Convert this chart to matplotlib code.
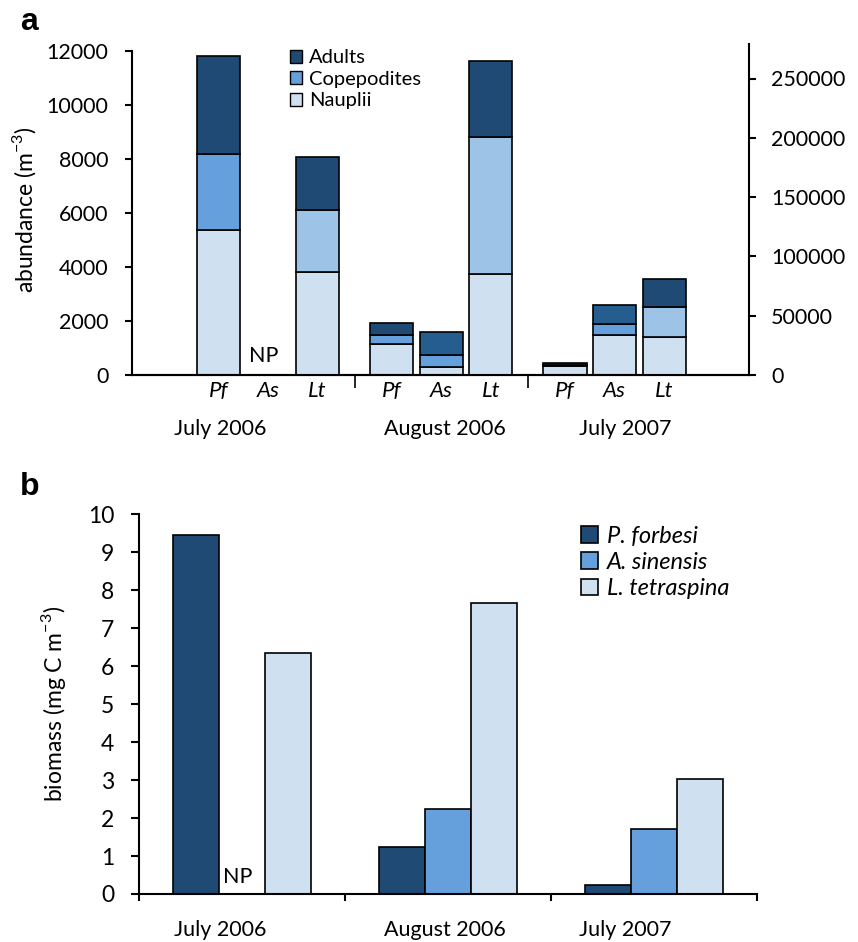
import matplotlib
matplotlib.use("Agg")
import matplotlib.pyplot as plt
from matplotlib.patches import Patch
from matplotlib.transforms import blended_transform_factory
import numpy as np

plt.rcParams['font.family'] = ['Lato', 'DejaVu Sans']

# ---- panel a: abundance by life stage ----
cruises = ["July 2006", "August 2006", "July 2007"]
species_abbr = ["Pf", "As", "Lt", "Pf", "As", "Lt", "Pf", "As", "Lt"]
stages = ["Nauplii", "Copepodites", "Adults"]

# Pf and As on the left axis (m-3); Lt on the right axis (m-3)
pf_nauplii = [5360, 1160, 344]
pf_copepodites = [2810, 320, 20]
pf_adults = [3660, 435, 91]

as_nauplii = [np.nan, 300, 1470]      # NP in July 2006
as_copepodites = [np.nan, 430, 430]
as_adults = [np.nan, 860, 680]

lt_nauplii = [86800, 85400, 31700]
lt_copepodites = [52600, 115500, 25900]
lt_adults = [44400, 63900, 23000]

# ---- panel b: biomass by species ----
species_full = ["P. forbesi", "A. sinensis", "L. tetraspina"]
biomass_pf = [9.45, 1.25, 0.245]
biomass_as = [np.nan, 2.24, 1.72]
biomass_lt = [6.34, 7.67, 3.04]

c_dark = "#1f4a73"
c_dark_as = "#255e8e"
c_mid = "#66a0dc"
c_lt_cop = "#9dc3e6"
c_light = "#cfe0f1"

W, H = 858, 942
fig = plt.figure(figsize=(W / 100, H / 100), dpi=100)


def frac(x0, y_top, x1, y_bot):
    return [x0 / W, (H - y_bot) / H, (x1 - x0) / W, (y_bot - y_top) / H]


tick_fs = 15.5
sup3 = r"$^{\mathregular{-3}}$"

# ================= panel a =================
ax = fig.add_axes(frac(132, 44, 749, 375))
axr = ax.twinx()
ax.set_ylim(0, 12000 * 331 / 324)
axr.set_ylim(0, 50000 * 331 / 59.3)

pos = np.array([0, 1, 2, 3.5, 4.5, 5.5, 7, 8, 9])
ax.set_xlim(-1.747, 10.717)
bw = 43 / 49.5
edge = dict(edgecolor="black", linewidth=1.2)

pf_x = pos[[0, 3, 6]]
as_x = pos[[1, 4, 7]]
lt_x = pos[[2, 5, 8]]

def stack(axis, x, n, c, a, cols):
    n = np.array(n, float)
    c = np.array(c, float)
    a = np.array(a, float)
    axis.bar(x, n, bw, color=cols[0], **edge)
    axis.bar(x, c, bw, bottom=n, color=cols[1], **edge)
    axis.bar(x, a, bw, bottom=n + c, color=cols[2], **edge)

stack(ax, pf_x, pf_nauplii, pf_copepodites, pf_adults, [c_light, c_mid, c_dark])
stack(ax, as_x, as_nauplii, as_copepodites, as_adults, [c_light, c_mid, c_dark_as])
stack(axr, lt_x, lt_nauplii, lt_copepodites, lt_adults, [c_light, c_lt_cop, c_dark])

ax.text(0.92, 700, "NP", fontsize=15.5, ha="center", va="center")

for a_ in (ax, axr):
    a_.spines["top"].set_visible(False)
    a_.spines["bottom"].set_linewidth(1.5)
ax.spines["right"].set_visible(False)
axr.spines["left"].set_visible(False)
ax.spines["left"].set_bounds(0, 12000)
ax.spines["left"].set_linewidth(1.5)
axr.spines["right"].set_linewidth(1.5)

ax.set_yticks(np.arange(0, 12001, 2000))
axr.set_yticks(np.arange(0, 250001, 50000))
ax.tick_params(axis="y", labelsize=tick_fs, length=5, width=1.5,
               direction="out", pad=12)
axr.tick_params(axis="y", labelsize=tick_fs, length=5, width=1.5,
                direction="out", pad=11)

ax.set_xticks(pos)
ax.set_xticklabels(species_abbr, fontsize=16, style="italic")
ax.tick_params(axis="x", which="major", length=0, pad=4)
ax.set_xticks([2.75, 6.25], minor=True)
ax.tick_params(axis="x", which="minor", length=9, width=1.2, direction="out")

ax.set_ylabel("abundance (m" + sup3 + ")", fontsize=16.5)
ax.yaxis.set_label_coords(-0.152, 0.5)

trans_a = blended_transform_factory(ax.transData, ax.transAxes)
for xl, lab in zip([0.03, 4.58, 8.21], cruises):
    ax.text(xl, -0.163, lab, transform=trans_a, fontsize=15.5,
            ha="center", va="center")

leg_a = [Patch(facecolor=c_dark, edgecolor="black"),
         Patch(facecolor=c_mid, edgecolor="black"),
         Patch(facecolor=c_light, edgecolor="black")]
axr.legend(leg_a, ["Adults", "Copepodites", "Nauplii"], loc="upper left",
           bbox_to_anchor=(0.243, 1.008), frameon=False, fontsize=14.5,
           handlelength=0.6, handleheight=0.6, handletextpad=0.35,
           labelspacing=0.22, borderaxespad=0.0)

fig.text(20 / W, 1 - 22 / H, "a", fontsize=23, fontweight="bold",
         family="Liberation Sans", va="center", ha="left")

# ================= panel b =================
bx = fig.add_axes(frac(139, 514.3, 757.3, 894))
bx.set_xlim(-0.5, 2.5)
bx.set_ylim(0, 10)
cat = np.arange(len(cruises))
w = 46 / 206.1
bx.bar(cat - w, biomass_pf, w, color=c_dark, **edge, label=species_full[0])
bx.bar(cat, biomass_as, w, color=c_mid, **edge, label=species_full[1])
bx.bar(cat + w, biomass_lt, w, color=c_light, **edge, label=species_full[2])
bx.text(-0.02, 0.45, "NP", fontsize=15.5, ha="center", va="center")

bx.spines["top"].set_visible(False)
bx.spines["right"].set_visible(False)
bx.spines["left"].set_linewidth(1.5)
bx.spines["bottom"].set_linewidth(1.5)
bx.set_yticks(np.arange(0, 11, 1))
bx.tick_params(axis="y", labelsize=tick_fs + 1, length=6, width=1.5, pad=12)
bx.set_xticks([-0.5, 0.5, 1.5, 2.5])
bx.set_xticklabels([])
bx.tick_params(axis="x", length=5, width=1.5)
bx.set_ylabel("biomass (mg C m" + sup3 + ")", fontsize=16.5)
bx.yaxis.set_label_coords(-0.115, 0.5)

trans_b = blended_transform_factory(bx.transData, bx.transAxes)
for xl, lab in zip([-0.105, 0.985, 1.858], cruises):
    bx.text(xl, -0.095, lab, transform=trans_b, fontsize=15.5,
            ha="center", va="center")

bx.legend(loc="upper left", bbox_to_anchor=(0.70, 0.995), frameon=False,
          prop=dict(size=17, style="italic"), handlelength=0.7,
          handleheight=0.7, handletextpad=0.4, labelspacing=0.22,
          borderaxespad=0.0)

fig.text(20 / W, 1 - 487 / H, "b", fontsize=23, fontweight="bold",
         family="Liberation Sans", va="center", ha="left")

fig.savefig("out.png", dpi=100)
